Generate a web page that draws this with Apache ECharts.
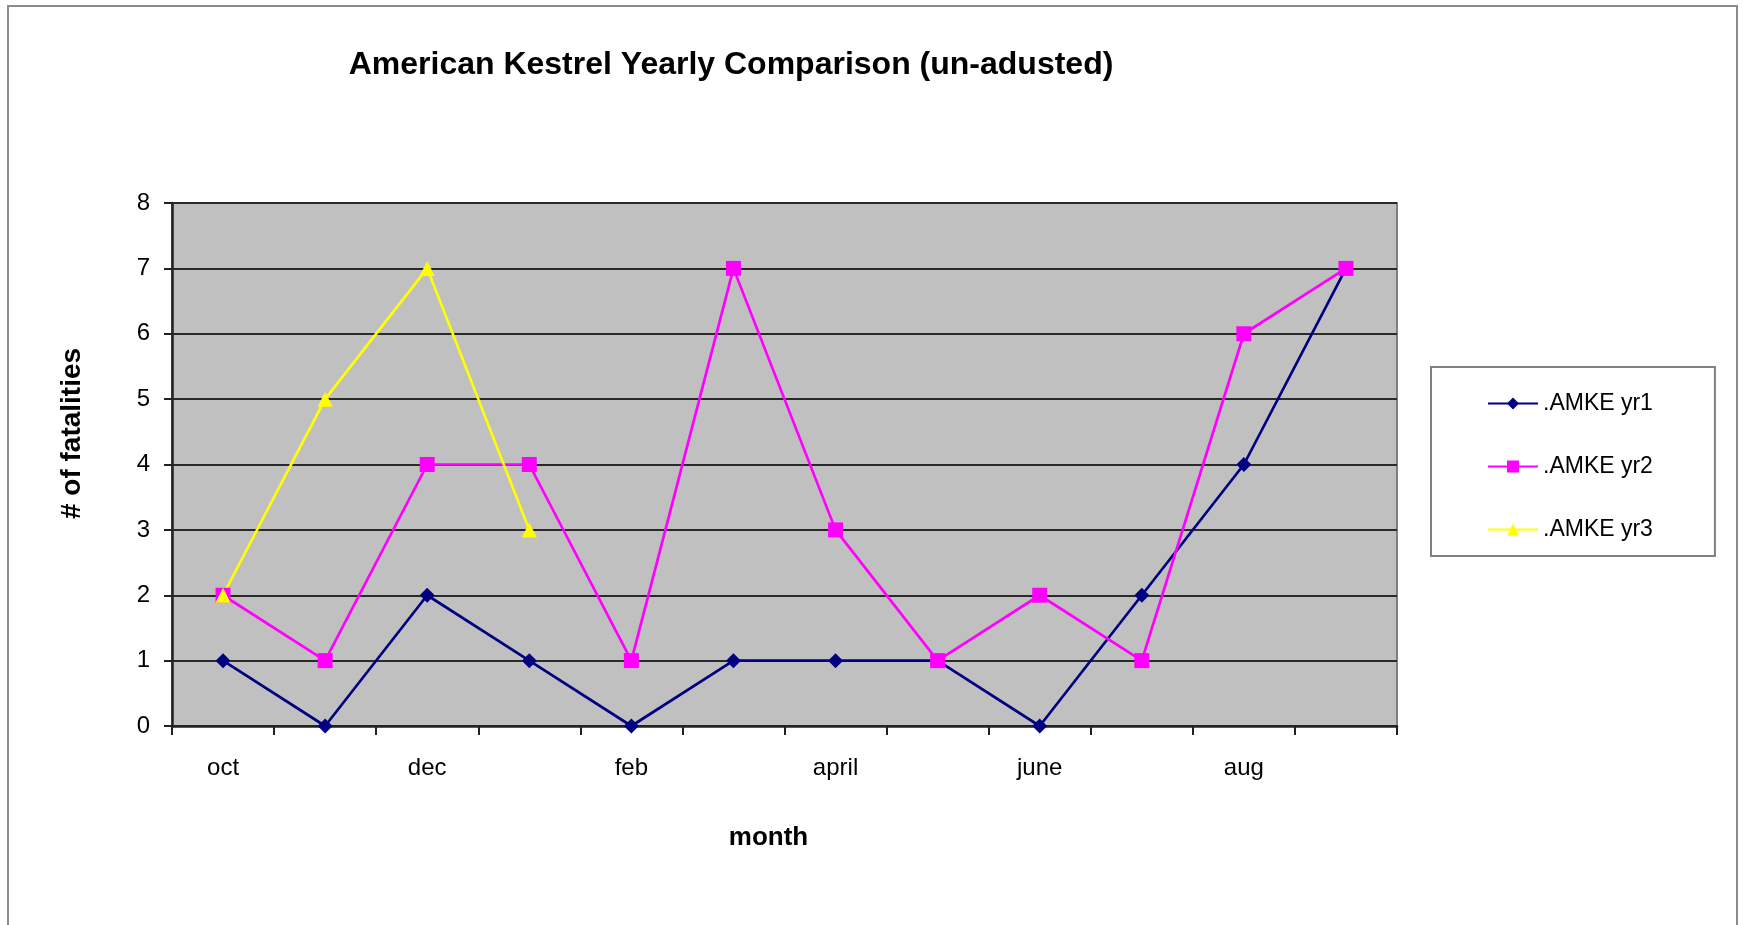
<!DOCTYPE html>
<html lang="en">
<head>
    <meta charset="UTF-8">
    <title>American Kestrel Yearly Comparison</title>
    <script src="https://cdn.jsdelivr.net/npm/echarts@6/dist/echarts.min.js"></script>
    <style>
        html, body { margin: 0; padding: 0; background: #fff; }
        #chart { width: 1743px; height: 925px; }
    </style>
</head>
<body>
<div id="chart"></div>
<script>
    // months (only every other one gets a label on the axis)
    var months = ['oct', 'nov', 'dec', 'jan', 'feb', 'mar', 'april', 'may', 'june', 'july', 'aug', 'sept'];
    var yTicks = [0, 1, 2, 3, 4, 5, 6, 7, 8];

    // fatalities per month
    var yr1 = [1, 0, 2, 1, 0, 1, 1, 1, 0, 2, 4, 7];
    var yr2 = [2, 1, 4, 4, 1, 7, 3, 1, 2, 1, 6, 7];
    var yr3 = [2, 5, 7, 3, null, null, null, null, null, null, null, null];

    var font = 'Liberation Sans, Arial, sans-serif';

    var chart = echarts.init(document.getElementById('chart'));
    chart.setOption({
        animation: false,
        textStyle: { fontFamily: font },
        graphic: [{
            type: 'rect',
            shape: { x: 8, y: 6, width: 1729, height: 930 },
            style: { fill: 'none', stroke: '#8c8c8c', lineWidth: 2 },
            z: -1
        }],
        title: {
            text: 'American Kestrel Yearly Comparison (un-adusted)',
            left: 726,
            top: 44,
            textAlign: 'center',
            textStyle: { fontSize: 32, fontWeight: 'bold', color: '#000', fontFamily: font }
        },
        legend: {
            orient: 'vertical',
            left: 1431,
            top: 367,
            padding: [25, 62, 15, 56],
            itemWidth: 50,
            itemHeight: 15,
            itemGap: 40,
            backgroundColor: '#fff',
            borderColor: '#808080',
            borderWidth: 2,
            textStyle: { fontSize: 23, color: '#000', fontFamily: font },
            data: ['.AMKE yr1', '.AMKE yr2', '.AMKE yr3']
        },
        grid: {
            left: 172,
            top: 203,
            width: 1225,
            height: 523,
            show: true,
            backgroundColor: '#c0c0c0',
            borderColor: '#808080',
            borderWidth: 2
        },
        xAxis: {
            type: 'category',
            data: months,
            boundaryGap: true,
            name: 'month',
            nameLocation: 'middle',
            nameGap: 99,
            nameTextStyle: { fontSize: 26, fontWeight: 'bold', color: '#000', padding: [0, 32, 0, 0] },
            axisLine: { lineStyle: { color: '#222', width: 2.5 } },
            axisTick: { show: true, length: 9, interval: 0, lineStyle: { color: '#222', width: 2 } },
            axisLabel: { interval: 1, fontSize: 24, color: '#000', margin: 30 }
        },
        yAxis: {
            type: 'value',
            min: yTicks[0],
            max: yTicks[yTicks.length - 1],
            interval: 1,
            name: '# of fatalities',
            nameLocation: 'middle',
            nameGap: 86,
            nameRotate: 90,
            nameTextStyle: { fontSize: 28, fontWeight: 'bold', color: '#000', padding: [0, 0, 0, 62] },
            axisLine: { show: true, lineStyle: { color: '#222', width: 2.5 } },
            axisTick: { show: true, length: 8, lineStyle: { color: '#222', width: 2 } },
            axisLabel: { fontSize: 24, color: '#000', margin: 22 },
            splitLine: { lineStyle: { color: '#2a2a2a', width: 2 } }
        },
        series: [{
            name: '.AMKE yr1',
            type: 'line',
            data: yr1,
            symbol: 'diamond',
            symbolSize: 15,
            color: '#000080',
            lineStyle: { width: 2.7 }
        }, {
            name: '.AMKE yr2',
            type: 'line',
            data: yr2,
            symbol: 'rect',
            symbolSize: 15,
            color: '#ff00ff',
            lineStyle: { width: 2.7 }
        }, {
            name: '.AMKE yr3',
            type: 'line',
            data: yr3,
            symbol: 'triangle',
            symbolSize: 15,
            color: '#ffff00',
            lineStyle: { width: 2.7 }
        }]
    });
</script>
</body>
</html>
